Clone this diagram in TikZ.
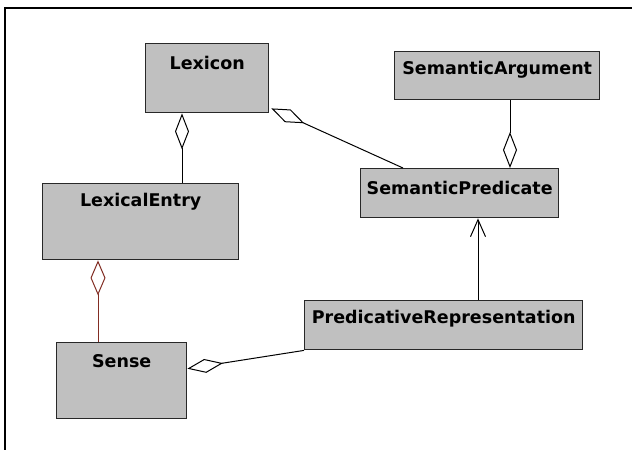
\documentclass[tikz,border=0pt]{standalone}
\usepackage{fontspec}
\newfontfamily\umlfont{DejaVu Sans}
\usetikzlibrary{arrows.meta}
\definecolor{boxfill}{RGB}{192,192,192}
\definecolor{boxline}{RGB}{40,40,40}
\definecolor{redline}{RGB}{130,45,35}
\tikzset{
  umlbox/.style={draw=boxline, fill=boxfill, line width=1.4pt, rectangle, inner sep=0pt, anchor=north west},
  umltitle/.style={font=\umlfont\bfseries\fontsize{17.5}{20}\selectfont, text=black, inner sep=0pt},
  agg/.style={line width=1pt, draw=black, {Diamond[open,length=36pt,width=14pt,line width=1pt]}-},
  aggred/.style={line width=1pt, draw=redline, {Diamond[open,length=35pt,width=15pt,line width=1pt]}-},
  assoc/.style={line width=1pt, draw=black, -{Straight Barb[length=17pt,width=15pt,line width=1pt]}},
  frameline/.style={line width=2pt, draw=black}
}
\begin{document}
\begin{tikzpicture}[x=1pt,y=-1pt]
\useasboundingbox (0,0) rectangle (632,450);
\fill[white] (0,0) rectangle (632,450);
\coordinate (ftr) at (632,8);
\coordinate (ftl) at (5,8);
\coordinate (fbl) at (5,450);
\draw[frameline] (ftr) -- (ftl) -- (fbl);

\node[umlbox, minimum width=123pt, minimum height=69pt] (lex) at (145,43) {};
\node[umltitle] (lexT) at ([yshift=-20pt]lex.north) {Lexicon};

\node[umlbox, minimum width=196pt, minimum height=76pt] (le) at (42,183) {};
\node[umltitle] (leT) at ([yshift=-19pt]le.north) {LexicalEntry};

\node[umlbox, minimum width=130pt, minimum height=76pt] (se) at (56,342) {};
\node[umltitle] (seT) at ([yshift=-19pt]se.north) {Sense};

\node[umlbox, minimum width=205pt, minimum height=48pt] (sa) at (394,51) {};
\node[umltitle] (saT) at ([yshift=-19pt]sa.north) {SemanticArgument};

\node[umlbox, minimum width=198pt, minimum height=49pt] (sp) at (360,168) {};
\node[umltitle] (spT) at ([yshift=-20pt]sp.north) {SemanticPredicate};

\node[umlbox, minimum width=278pt, minimum height=49pt] (pr) at (304,300) {};
\node[umltitle] (prT) at ([yshift=-19pt]pr.north) {PredicativeRepresentation};

% Lexicon <>-- LexicalEntry
\draw[agg] ([xshift=37pt]lex.south west) -- ([xshift=140pt]le.north west);
% Lexicon <>-- SemanticPredicate
\draw[agg] ([xshift=2pt,yshift=5pt]lex.south east) -- ([xshift=43pt]sp.north west);
% SemanticPredicate <>-- SemanticArgument
\draw[agg] ([xshift=150pt]sp.north west) -- ([xshift=116pt]sa.south west);
% LexicalEntry <>-- Sense (red)
\draw[aggred] ([xshift=56pt]le.south west) -- ([xshift=42pt]se.north west);
% Sense <>-- PredicativeRepresentation
\draw[agg] ([yshift=12pt]se.east) -- (pr.south west);
% PredicativeRepresentation --> SemanticPredicate
\draw[assoc] ([xshift=174pt]pr.north west) -- ([xshift=118pt]sp.south west);
\end{tikzpicture}
\end{document}
